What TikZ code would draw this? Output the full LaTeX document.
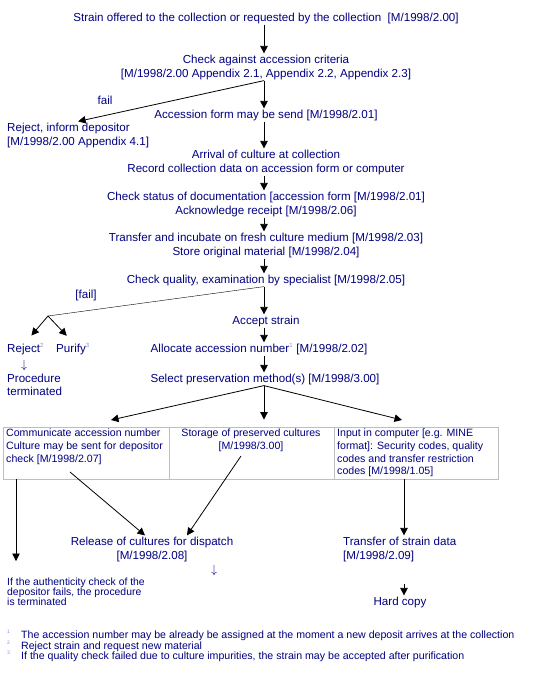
\documentclass[tikz,border=0pt]{standalone}
\usepackage{fontspec}
\setmainfont{Liberation Sans}
\usepackage{tikz}
\usetikzlibrary{arrows.meta}

\definecolor{navytext}{RGB}{0,0,128}
\definecolor{notecol}{RGB}{140,140,200}
\definecolor{cellline}{RGB}{190,190,190}

\tikzset{
  step text/.style={text=navytext, font=\fontsize{11.6}{14}\selectfont, align=center, inner sep=1pt},
  left text/.style={step text, align=left, anchor=west},
  cell text/.style={step text, font=\fontsize{10.6}{12.6}\selectfont},
  small text/.style={text=navytext, font=\fontsize{10.4}{10}\selectfont, align=left, inner sep=1pt},
  arr/.style={-{Triangle[length=7.5pt,width=7.5pt]}, line width=0.8pt},
  cellbox/.style={draw=cellline, line width=0.8pt, minimum height=52pt, inner sep=0pt},
}
\newcommand{\fnmark}[1]{\textsuperscript{\textcolor{notecol}{\fontsize{6}{6}\selectfont #1}}}

\begin{document}
\begin{tikzpicture}[x=1pt,y=-1pt]
      \useasboundingbox (0,0) rectangle (553,673);

      \node[step text] (offer) at (266,18) {Strain offered to the collection or requested by the collection\ \ [M/1998/2.00]};
      \node[step text] (crit) at (266,67) {Check against accession criteria\\{}[M/1998/2.00 Appendix 2.1, Appendix 2.2, Appendix 2.3]};
      \node[step text] (form) at (266,115) {Accession form may be send [M/1998/2.01]};
      \node[left text] (rej) at (6,135) {Reject, inform depositor\\{}[M/1998/2.00 Appendix 4.1]};
      \node[step text] (fail) at (105,100) {fail};
      \node[step text] (arrive) at (266,162) {Arrival of culture at collection\\Record collection data on accession form or computer};
      \node[step text] (docs) at (266,204) {Check status of documentation [accession form [M/1998/2.01]\\Acknowledge receipt [M/1998/2.06]};
      \node[step text] (incub) at (266,245) {Transfer and incubate on fresh culture medium [M/1998/2.03]\\Store original material [M/1998/2.04]};
      \node[step text] (qual) at (266,280) {Check quality, examination by specialist [M/1998/2.05]};
      \node[step text] (failq) at (86,295) {[fail]};
      \node[step text] (accept) at (266,321) {Accept strain};
      \node[left text] (rejq) at (6,349) {Reject\fnmark{2}};
      \node[left text] (purify) at (55,349) {Purify\fnmark{3}};
      \node[step text] (down1) at (24,365) {$\downarrow$};
      \node[left text, font=\fontsize{11.6}{13}\selectfont] (term) at (6,385) {Procedure\\terminated};
      \node[step text] (alloc) at (259,349) {Allocate accession number\fnmark{1} [M/1998/2.02]};
      \node[step text] (select) at (265,379) {Select preservation method(s) [M/1998/3.00]};

      % table of the three branches
      \node[cellbox, minimum width=166pt] (c1) at (86,453) {};
      \node[cellbox, minimum width=165pt] (c2) at (251.5,453) {};
      \node[cellbox, minimum width=164pt] (c3) at (416,453) {};
      \node[cell text, align=left, anchor=north west] (c1t) at (5,428) {Communicate accession number\\Culture may be sent for depositor\\check [M/1998/2.07]};
      \node[cell text, anchor=north] (c2t) at (251,428) {Storage of preserved cultures\\{}[M/1998/3.00]};
      \node[cell text, align=left, anchor=north west] (c3t) at (336,428) {Input in computer [e.g. MINE\\format]: Security codes, quality\\codes and transfer restriction\\codes [M/1998/1.05]};

      \node[step text] (release) at (152,549) {Release of cultures for dispatch\\{}[M/1998/2.08]};
      \node[left text] (transfer) at (342,549) {Transfer of strain data\\{}[M/1998/2.09]};
      \node[step text] (down2) at (214,570) {$\downarrow$};
      \node[small text, anchor=north west] (auth) at (6,577) {If the authenticity check of the\\depositor fails, the procedure\\is terminated};
      \node[step text] (hard) at (400,602) {Hard copy};

      % footnotes
      \node[text=notecol, font=\fontsize{5}{10.5}\selectfont, align=left, anchor=north west, inner sep=0pt] (marks) at (7,630) {1\\2\\3};
      \node[small text, anchor=north west, font=\fontsize{10.6}{10.5}\selectfont] (notes) at (20,630) {The accession number may be already be assigned at the moment a new deposit arrives at the collection\\Reject strain and request new material\\If the quality check failed due to culture impurities, the strain may be accepted after purification};

      % branch points and free ends
      \coordinate (split) at (48,316);
      \coordinate (in1) at (111,420);
      \coordinate (in3) at (402,420);
      \coordinate (out1) at (70,472);
      \coordinate (out2) at (241,456);
      \coordinate (out3) at (404,479);
      \coordinate (out4) at (16,479);
      \coordinate (hc) at (404,584);

      \draw[arr] (offer.south -| 264,0) -- (crit.north -| 264,0);
      \draw[arr] (crit.south -| 264,0) -- (form.north -| 264,0);
      \draw[arr] (crit.south -| 264,0) -- (rej.north);
      \draw[arr] (form.south -| 264,0) -- (arrive.north -| 264,0);
      \draw[arr] (arrive.south -| 264,0) -- (docs.north -| 264,0);
      \draw[arr] (docs.south -| 264,0) -- (incub.north -| 264,0);
      \draw[arr] (incub.south -| 264,0) -- (qual.north -| 264,0);
      \draw[arr] (qual.south -| 264,0) -- (accept.north -| 264,0);
      \draw (qual.south -| 264,0) -- (split);
      \draw[arr, shorten >=9pt] (split) -- (rejq.north);
      \draw[arr, shorten >=9pt] (split) -- (purify.north);
      \draw[arr] (accept.south -| 264,0) -- (alloc.north -| 264,0);
      \draw[arr] (alloc.south -| 264,0) -- (select.north -| 264,0);
      \draw[arr] (select.south -| 264,0) -- (in1);
      \draw[arr, shorten >=7pt] (select.south -| 264,0) -- (c2.north -| 264,0);
      \draw[arr] (select.south -| 264,0) -- (in3);
      \draw[arr] (out1) -- ([xshift=-7pt]release.north);
      \draw[arr] (out2) -- ([xshift=35pt]release.north);
      \draw[arr] (out3) -- (out3 |- transfer.north);
      \draw[arr, shorten >=16pt] (out4) -- (out4 |- auth.north);
      \draw[arr] (hc) -- (hc |- hard.north);
\end{tikzpicture}
\end{document}
